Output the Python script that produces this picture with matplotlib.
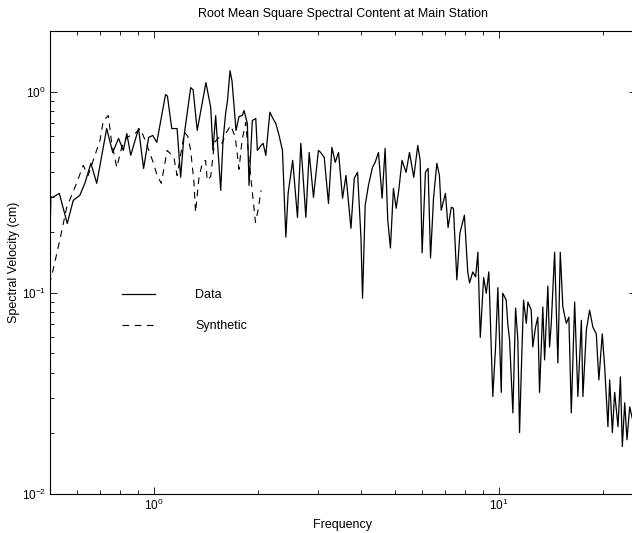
import numpy as np
import matplotlib
matplotlib.use("Agg")
import matplotlib.pyplot as plt

plt.rcParams['font.family'] = ['Liberation Sans', 'DejaVu Sans']
plt.rcParams['mathtext.fontset'] = 'custom'
plt.rcParams['mathtext.rm'] = 'Liberation Sans'
plt.rcParams['mathtext.it'] = 'Liberation Sans:italic'

# values (frequency, spectral velocity in cm)
data_freq = [0.497, 0.503, 0.509, 0.532, 0.561, 0.584, 0.610, 0.631, 0.657, 0.683,
             0.730, 0.760, 0.790, 0.816, 0.835, 0.857, 0.903, 0.934, 0.966, 0.993,
             1.020, 1.081, 1.095, 1.127, 1.168, 1.196, 1.222, 1.279, 1.300, 1.336,
             1.416, 1.462, 1.484, 1.511, 1.563, 1.587, 1.616, 1.635, 1.663, 1.685,
             1.731, 1.766, 1.805, 1.826, 1.867, 1.888, 1.930, 1.975, 1.996, 2.046,
             2.074, 2.112, 2.170, 2.207, 2.258, 2.308, 2.360, 2.414, 2.451, 2.527,
             2.609, 2.668, 2.759, 2.821, 2.903, 3.000, 3.040, 3.119, 3.209, 3.283,
             3.357, 3.432, 3.525, 3.607, 3.728, 3.812, 3.896, 3.985, 4.028, 4.100,
             4.190, 4.304, 4.383, 4.480, 4.590, 4.684, 4.767, 4.852, 4.951, 5.042,
             5.130, 5.243, 5.387, 5.510, 5.670, 5.824, 5.918, 5.996, 6.130, 6.240,
             6.342, 6.470, 6.615, 6.730, 6.810, 7.006, 7.130, 7.283, 7.390, 7.560,
             7.716, 7.952, 8.130, 8.230, 8.410, 8.570, 8.700, 8.840, 9.040, 9.200,
             9.360, 9.610, 9.790, 9.940, 10.17, 10.27, 10.51, 10.62, 10.75, 10.99,
             11.19, 11.36, 11.49, 11.62, 11.80, 12.02, 12.15, 12.42, 12.55, 12.78,
             12.98, 13.13, 13.42, 13.58, 13.88, 14.04, 14.20, 14.52, 14.84, 15.08,
             15.34, 15.70, 15.97, 16.23, 16.60, 16.96, 17.36, 17.54, 17.95, 18.34,
             18.75, 19.18, 19.51, 19.96, 20.28, 20.73, 20.97, 21.35, 21.68, 22.17,
             22.53, 22.82, 23.18, 23.54, 23.97, 24.50]
data_vel = [0.130, 0.300, 0.298, 0.312, 0.221, 0.288, 0.305, 0.350, 0.440, 0.350,
            0.655, 0.498, 0.585, 0.510, 0.619, 0.482, 0.655, 0.415, 0.592, 0.605,
            0.559, 0.966, 0.950, 0.655, 0.655, 0.375, 0.592, 1.046, 1.020, 0.641,
            1.108, 0.833, 0.510, 0.760, 0.323, 0.572, 0.787, 0.900, 1.270, 1.130,
            0.641, 0.752, 0.760, 0.805, 0.694, 0.342, 0.718, 0.735, 0.510, 0.540,
            0.553, 0.482, 0.790, 0.743, 0.694, 0.605, 0.510, 0.189, 0.312, 0.455,
            0.237, 0.553, 0.237, 0.498, 0.298, 0.510, 0.500, 0.471, 0.278, 0.528,
            0.445, 0.498, 0.295, 0.383, 0.209, 0.371, 0.397, 0.189, 0.094, 0.272,
            0.342, 0.420, 0.445, 0.498, 0.295, 0.522, 0.229, 0.167, 0.330, 0.263,
            0.323, 0.455, 0.397, 0.498, 0.375, 0.540, 0.455, 0.158, 0.397, 0.415,
            0.149, 0.295, 0.440, 0.383, 0.257, 0.312, 0.211, 0.266, 0.263, 0.116,
            0.198, 0.243, 0.127, 0.112, 0.127, 0.120, 0.159, 0.060, 0.119, 0.0995,
            0.127, 0.0305, 0.0538, 0.106, 0.032, 0.0995, 0.092, 0.0705, 0.0583, 0.0253,
            0.084, 0.0583, 0.0202, 0.040, 0.092, 0.0705, 0.090, 0.082, 0.0538, 0.0674,
            0.0757, 0.032, 0.085, 0.0464, 0.108, 0.0538, 0.0705, 0.159, 0.0448, 0.159,
            0.085, 0.0705, 0.0757, 0.0253, 0.090, 0.0305, 0.073, 0.0305, 0.0654, 0.082,
            0.0674, 0.0625, 0.0369, 0.0625, 0.0428, 0.0216, 0.0369, 0.0202, 0.032, 0.0216,
            0.0382, 0.0172, 0.0284, 0.0186, 0.0271, 0.023]

synth_freq = [0.497, 0.505, 0.534, 0.559, 0.597, 0.624, 0.645, 0.698, 0.714, 0.738,
              0.755, 0.781, 0.807, 0.835, 0.882, 0.913, 0.944, 0.998, 1.022, 1.051,
              1.093, 1.143, 1.168, 1.227, 1.255, 1.279, 1.307, 1.321, 1.351, 1.383,
              1.413, 1.428, 1.462, 1.499, 1.545, 1.579, 1.616, 1.671, 1.723, 1.766,
              1.802, 1.847, 1.888, 1.930, 1.971, 2.005, 2.046]
synth_vel = [0.110, 0.120, 0.183, 0.266, 0.350, 0.430, 0.383, 0.572, 0.718, 0.760,
             0.553, 0.420, 0.528, 0.592, 0.619, 0.655, 0.572, 0.440, 0.383, 0.350,
             0.510, 0.471, 0.383, 0.627, 0.599, 0.510, 0.354, 0.251, 0.371, 0.445,
             0.455, 0.362, 0.379, 0.559, 0.592, 0.553, 0.619, 0.678, 0.592, 0.411,
             0.572, 0.702, 0.455, 0.316, 0.224, 0.257, 0.323]

fig = plt.figure(figsize=(6.32, 5.33), dpi=100)
ax = fig.add_axes([50 / 632, 39 / 533, 586 / 632, 463 / 533])

ax.plot(data_freq, data_vel, color='black', lw=0.9, label='Data')
ax.plot(synth_freq, synth_vel, color='black', lw=0.8, dashes=(6, 5), label='Synthetic')

ax.set_xscale('log')
ax.set_yscale('log')
ax.set_xlim(0.5, 25)
ax.set_ylim(0.01, 2.0)

ax.tick_params(which='both', direction='in', top=True, right=True, labelsize=8.5, pad=3)
ax.tick_params(which='major', length=5, width=0.6)
ax.tick_params(which='minor', length=3, width=0.6)
for s in ax.spines.values():
    s.set_linewidth(0.8)

ax.set_title('Root Mean Square Spectral Content at Main Station', fontsize=9, pad=10)
ax.set_xlabel('Frequency', fontsize=9, labelpad=4)
ax.set_ylabel('Spectral Velocity (cm)', fontsize=9, labelpad=1)

ax.legend(loc='upper left', bbox_to_anchor=(0.123, 0.443), frameon=False,
          borderpad=0, borderaxespad=0, handlelength=2.64, handletextpad=3.2,
          labelspacing=1.55, fontsize=9)

fig.savefig('out.png', dpi=100)
